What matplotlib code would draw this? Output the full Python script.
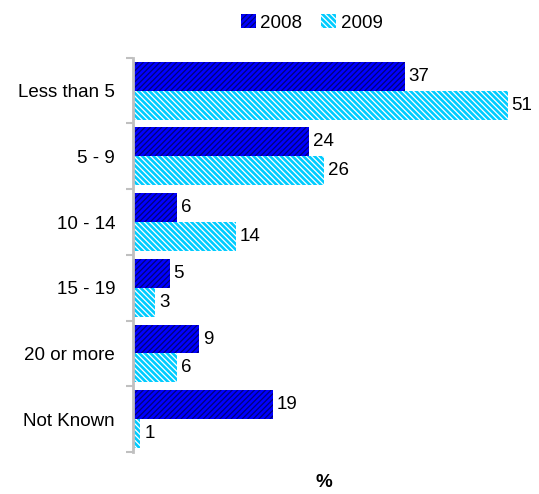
import numpy as np
import matplotlib.pyplot as plt

# Categories and values (%)
categories = ['Less than 5', '5 - 9', '10 - 14', '15 - 19', '20 or more', 'Not Known']
vals_2008 = [37, 24, 6, 5, 9, 19]
vals_2009 = [51, 26, 14, 3, 6, 1]

plt.rcParams['font.family'] = 'Liberation Sans'
plt.rcParams['hatch.linewidth'] = 0.9

fig = plt.figure(figsize=(5.39, 4.94), dpi=100)
ax = fig.add_axes([0.247, 0.085, 0.736, 0.798])

y = np.arange(len(categories))
h = 0.44

b1 = ax.barh(y - h / 2, vals_2008, height=h, color='#0000ff', edgecolor='#00007a',
             hatch='//////', linewidth=0, label='2008')
b2 = ax.barh(y + h / 2, vals_2009, height=h, color='#00ccff', edgecolor='white',
             hatch='\\\\\\\\\\\\', linewidth=0, label='2009')

for bars, vals in [(b1, vals_2008), (b2, vals_2009)]:
    for bar, v in zip(bars, vals):
        ax.text(bar.get_width() + 0.5, bar.get_y() + bar.get_height() / 2, str(v),
                va='center', ha='left', fontsize=13.5)

ax.set_ylim(len(categories) - 0.5, -0.5)
ax.set_xlim(0, 54)

# category labels between boundary ticks
ax.set_yticks(y)
ax.set_yticklabels(categories, fontsize=13.5)
ax.tick_params(axis='y', which='major', length=0, pad=13)
ax.set_yticks(np.arange(-0.5, len(categories)), minor=True)
ax.tick_params(axis='y', which='minor', length=5, width=1.5, color='#c0c0c0')

ax.set_xticks([])
for s in ['top', 'right', 'bottom']:
    ax.spines[s].set_visible(False)
ax.spines['left'].set_color('#c0c0c0')
ax.spines['left'].set_linewidth(2)

ax.set_xlabel('%', fontsize=13.5, fontweight='bold')
ax.xaxis.set_label_coords(0.48, -0.055)

fig.legend(loc='upper center', bbox_to_anchor=(0.578, 1.005), ncol=2, frameon=False,
           fontsize=13.5, handlelength=0.8, handleheight=0.7, handletextpad=0.25,
           columnspacing=1.0)

fig.savefig('out.png')
